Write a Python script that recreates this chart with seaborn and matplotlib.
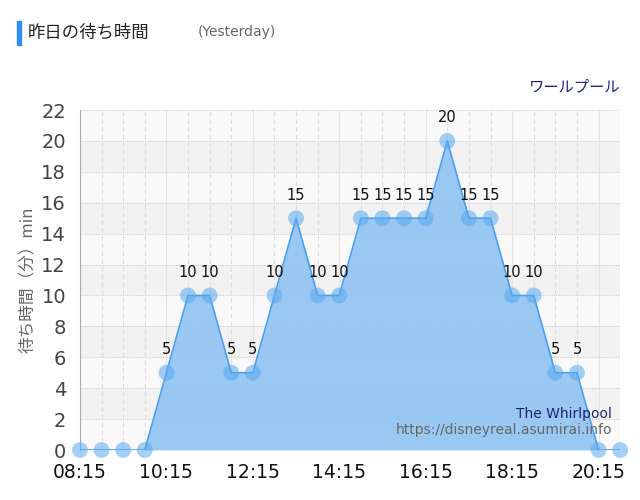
import numpy as np
import pandas as pd
import matplotlib
matplotlib.use("Agg")
import matplotlib.pyplot as plt
import seaborn as sns

# data: every 30 min from 08:15
times = ["08:15", "08:45", "09:15", "09:45", "10:15", "10:45", "11:15", "11:45",
         "12:15", "12:45", "13:15", "13:45", "14:15", "14:45", "15:15", "15:45",
         "16:15", "16:45", "17:15", "17:45", "18:15", "18:45", "19:15", "19:45",
         "20:15", "20:45"]
waits = [0, 0, 0, 0, 5, 10, 10, 5, 5, 10, 15, 10, 10, 15, 15, 15, 15, 20, 15, 15,
         10, 10, 5, 5, 0, 0]
tick_labels = ["08:15", "10:15", "12:15", "14:15", "16:15", "18:15", "20:15"]

def to_min(t):
    h, m = t.split(":")
    return int(h) * 60 + int(m)

df = pd.DataFrame({"t": [to_min(t) for t in times], "wait": waits})

sns.set_style("white")
plt.rcParams["font.family"] = ["DejaVu Sans", "Noto Sans CJK JP"]
jp = ["Noto Sans CJK JP", "DejaVu Sans"]

fig = plt.figure(figsize=(6.4, 5.0), dpi=100)
ax = fig.add_axes([0.125, 0.1, 0.844, 0.68])

x0, x1 = df.t.min(), df.t.max()
ax.set_xlim(x0, x1)
ax.set_ylim(0, 22)

# alternating bands
for k, y in enumerate(range(0, 22, 2)):
    ax.axhspan(y, y + 2, color="#f9f9f9" if k % 2 == 0 else "#f2f2f2", zorder=0, lw=0)

# grid
for y in range(2, 23, 2):
    ax.axhline(y, color="#d0d0d0", lw=0.8, ls=(0, (1, 1)), zorder=1)
for t in df.t:
    if (t - x0) % 120 == 0:
        ax.axvline(t, color="#e4e4e4", lw=0.8, zorder=1)
    else:
        ax.axvline(t, color="#dedede", lw=0.8, ls=(0, (4, 3)), zorder=1)

ax.fill_between(df.t, df.wait, color="#8fc3f2", alpha=0.9, lw=0, zorder=2)
sns.lineplot(data=df, x="t", y="wait", ax=ax, color="#4b9ff0", lw=1.2, zorder=3)
sns.scatterplot(data=df, x="t", y="wait", ax=ax, color="#5aa8f0", s=130,
                alpha=0.55, edgecolor="none", zorder=4, clip_on=False)

for t, w in zip(df.t, df.wait):
    if w > 0:
        ax.text(t, w + 1.0, str(w), ha="center", va="bottom", fontsize=10.5,
                color="#111111", zorder=5)

ax.set_xticks([to_min(t) for t in tick_labels])
ax.set_xticklabels(tick_labels, fontsize=13.5, color="#111111")
ax.set_yticks(range(0, 23, 2))
ax.set_yticklabels([str(v) for v in range(0, 23, 2)], fontsize=14, color="#444444")
ax.tick_params(axis="y", length=8, color="#dddddd", pad=2)
ax.tick_params(axis="x", length=0, pad=9)
ax.set_xlabel("")
ax.set_ylabel("待ち時間（分）min", family=jp, fontsize=12, color="#666666", labelpad=4)

for s in ["top", "right", "bottom"]:
    ax.spines[s].set_visible(False)
ax.spines["left"].set_color("#aaaaaa")

# titles and notes
fig.patches.append(plt.Rectangle((17 / 640, 1 - 45 / 500), 4 / 640, 24 / 500,
                                 transform=fig.transFigure, color="#2f8ff0", figure=fig))
fig.text(28 / 640, 1 - 33 / 500, "昨日の待ち時間", family=jp, fontsize=12.5,
         color="#222222", va="center")
fig.text(198 / 640, 1 - 32 / 500, "(Yesterday)", fontsize=10, color="#666666", va="center")
fig.text(620 / 640, 1 - 87 / 500, "ワールプール", family=jp, fontsize=11,
         color="#1f2380", ha="right", va="center")
ax.text(0.985, 0.105, "The Whirlpool", transform=ax.transAxes, ha="right",
        va="center", fontsize=10, color="#1f2370", zorder=6)
ax.text(0.985, 0.06, "https://disneyreal.asumirai.info", transform=ax.transAxes,
        ha="right", va="center", fontsize=10, color="#666666", zorder=6)

fig.savefig("out.png", dpi=100)
